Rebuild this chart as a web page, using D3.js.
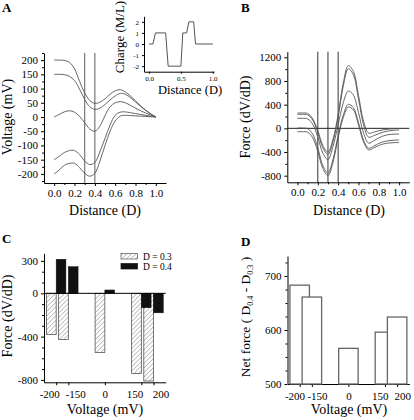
<!DOCTYPE html>
<html><head><meta charset="utf-8">
<script src="https://cdn.jsdelivr.net/npm/d3@7"></script>
<style>
html,body{margin:0;padding:0;background:#fff;}
svg{display:block;font-family:"Liberation Serif","Times New Roman",serif;}
</style>
</head><body>
<svg id="chart" width="414" height="420"></svg>
<script>
// ---------------- DATA ----------------
const distance = [0,0.05,0.1,0.15,0.2,0.25,0.3,0.35,0.4,0.45,0.5,0.55,0.6,0.65,0.7,0.75,0.8,0.85,0.9,0.95,1.0];
// Panel A: voltage profiles (mV)
const voltage200  = [200,200,199,192,170,125,85,58,48,52,64,80,92,96,88,74,57,39,24,11,0];
const voltage150  = [150,150,149,143,128,98,62,36,27,31,44,60,74,83,80,68,53,37,23,11,0];
const voltage0    = [0,9,18,22,17,2,-20,-42,-50,-32,5,36,50,54,50,41,31,22,14,7,0];
const voltageM150 = [-150,-138,-125,-118,-118,-132,-155,-167,-160,-122,-75,-28,6,17,18,15,12,9,6,3,0];
const voltageM200 = [-200,-186,-170,-163,-163,-178,-198,-208,-198,-155,-100,-50,-14,3,6,5,4,3,2,1,0];
const markerDistancesA = [0.3,0.4];
// Inset: charge profile
const chargeDistance = [0,0.06,0.1,0.26,0.3,0.5,0.53,0.59,0.625,0.7,0.73,1.0];
const chargeValues   = [0,0,1,1,-2,-2,1,1,2,2,0,0];
// Panel B: force profiles (dV/dD)
const force1 = [259,259,252,160,-40,-290,-400,-180,230,760,1060,960,560,120,-80,-65,-40,-22,-12,-6,-5];
const force2 = [236,236,228,140,-70,-330,-440,-220,190,710,1005,905,500,60,-150,-125,-90,-60,-42,-32,-29];
const force3 = [169,169,160,70,-150,-420,-530,-300,60,430,630,560,270,-80,-250,-210,-160,-125,-105,-98,-96];
const force4 = [5,5,-5,-100,-330,-630,-755,-520,-120,220,405,350,100,-200,-335,-300,-255,-225,-208,-200,-198];
const force5 = [-57,-57,-65,-160,-390,-680,-800,-570,-160,180,360,310,60,-230,-365,-330,-290,-262,-248,-242,-240];
const markerDistancesB = [0.2,0.3,0.4];
// Panel C / D
const voltages = [-200,-150,0,150,200];
const forceD03 = [-380,-426,-546,-741,-810];
const forceD04 = [315,246,31,-133,-180];
const seriesNames = ["D = 0.3","D = 0.4"];
const netForce = [683,661,566,596,624];
// tick labels
const distanceTicks = [0,0.2,0.4,0.6,0.8,1.0];
const voltageTicksA = [-200,-150,-100,-50,0,50,100,150,200];
const chargeTicks = [-2,-1,0,1,2];
const chargeDistTicks = [0,0.5,1.0];
const forceTicksB = [-800,-400,0,400,800,1200];
const forceTicksC = [-800,-400,0,300];
const netForceTicks = [500,600,700];

// ---------------- DRAW ----------------
const svg = d3.select("#chart");
const FONT = "Liberation Serif";
const fmt1 = d3.format(".1f");

function styleAxis(g, fs){
  g.attr("font-family", FONT).attr("font-size", fs);
  g.selectAll("path,line").attr("stroke","#000").attr("stroke-width",1);
  g.selectAll("text").attr("fill","#000");
}
function yAxis(scale, x, major, minor, fs, fmt){
  const g = svg.append("g").attr("transform",`translate(${x},0)`)
    .call(d3.axisLeft(scale).tickValues(major).tickSize(3).tickSizeOuter(0).tickPadding(3).tickFormat(fmt||(d=>String(d))));
  styleAxis(g, fs);
  if(minor){
    const m = svg.append("g").attr("transform",`translate(${x},0)`)
      .call(d3.axisLeft(scale).tickValues(minor).tickSize(2).tickFormat(""));
    m.select(".domain").remove();
    styleAxis(m, fs);
  }
  return g;
}
function xAxis(scale, y, major, minor, fs, fmt, pad){
  const g = svg.append("g").attr("transform",`translate(0,${y})`)
    .call(d3.axisBottom(scale).tickValues(major).tickSize(3).tickSizeOuter(0).tickPadding(pad||4).tickFormat(fmt||(d=>String(d))));
  styleAxis(g, fs);
  if(minor){
    const m = svg.append("g").attr("transform",`translate(0,${y})`)
      .call(d3.axisBottom(scale).tickValues(minor).tickSize(2).tickFormat(""));
    m.select(".domain").remove();
    styleAxis(m, fs);
  }
  return g;
}
function title(x, y, txt, fs, rotate, bold){
  const t = svg.append("text").attr("font-family",FONT).attr("font-size",fs)
    .attr("text-anchor", rotate ? "middle" : (bold ? "start" : "middle"))
    .attr("font-weight", bold ? "bold" : null).text(txt);
  if(rotate) t.attr("transform",`translate(${x},${y}) rotate(-90)`);
  else t.attr("x",x).attr("y",y);
  return t;
}
function spreadLabels(axisG, scale, values, minGap){
  // push overlapping tick labels apart symmetrically
  const pos = values.map(v=>scale(v));
  const out = pos.slice();
  for(let it=0; it<50; it++){
    for(let i=0;i<out.length-1;i++){
      const gap = out[i+1]-out[i];
      if(gap < minGap){ const d=(minGap-gap)/2; out[i]-=d; out[i+1]+=d; }
    }
  }
  axisG.selectAll(".tick text").each(function(d,i){
    d3.select(this).attr("dx", out[i]-pos[i]);
  });
}

// ===== Panel A =====
const xA = d3.scaleLinear().domain([-0.1,1.1]).range([44,166]);
const yA = d3.scaleLinear().domain([-232,225]).range([183,53]);
const minorDist = [0.1,0.3,0.5,0.7,0.9];
yAxis(yA, 44, voltageTicksA, d3.range(-225,226,50), 11);
xAxis(xA, 183, distanceTicks, minorDist, 11, fmt1, 3);
svg.append("g").selectAll("line").data(markerDistancesA).join("line")
  .attr("x1",d=>xA(d)).attr("x2",d=>xA(d)).attr("y1",yA.range()[0]).attr("y2",yA.range()[1])
  .attr("stroke","#777").attr("stroke-width",1.2);
const lineA = d3.line().x((d,i)=>xA(distance[i])).y(d=>yA(d)).curve(d3.curveCatmullRom.alpha(0.5));
svg.append("g").selectAll("path").data([voltage200,voltage150,voltage0,voltageM150,voltageM200]).join("path")
  .attr("d",lineA).attr("fill","none").attr("stroke","#555").attr("stroke-width",0.9);
title(12,117,"Voltage (mV)",14,true);
title(105,215,"Distance (D)",14,false);
title(2,12,"A",13,false,true);

// Inset
const xI = d3.scaleLinear().domain([-0.08,1.02]).range([144,214]);
const yI = d3.scaleLinear().domain([-2.5,2.5]).range([71.7,16.3]);
const gyI = svg.append("g").attr("transform","translate(144,0)")
  .call(d3.axisLeft(yI).tickValues(chargeTicks).tickSize(2).tickSizeOuter(0).tickPadding(3).tickFormat(d=>String(d)));
styleAxis(gyI, 7);
const gxI = svg.append("g").attr("transform","translate(0,71.7)")
  .call(d3.axisBottom(xI).tickValues(chargeDistTicks).tickSize(2).tickSizeOuter(0).tickPadding(2).tickFormat(fmt1));
styleAxis(gxI, 7);
svg.append("path").datum(chargeValues)
  .attr("d", d3.line().x((d,i)=>xI(chargeDistance[i])).y(d=>yI(d)))
  .attr("fill","none").attr("stroke","#555").attr("stroke-width",1);
title(124,37,"Charge (M/L)",13,true);
title(190,94,"Distance (D)",12.5,false);

// ===== Panel B =====
const xB = d3.scaleLinear().domain([-0.1,1.1]).range([287.3,409.3]);
const yB = d3.scaleLinear().domain([-912,1295]).range([182.3,51.7]);
yAxis(yB, 287.3, forceTicksB, [-600,-200,200,600,1000], 11);
xAxis(xB, 182.3, distanceTicks, minorDist, 11, fmt1, 3);
svg.append("g").selectAll("line").data(markerDistancesB).join("line")
  .attr("x1",d=>xB(d)).attr("x2",d=>xB(d)).attr("y1",yB.range()[0]).attr("y2",yB.range()[1])
  .attr("stroke","#333").attr("stroke-width",1);
svg.append("line").attr("x1",xB.range()[0]).attr("x2",xB.range()[1]).attr("y1",yB(0)).attr("y2",yB(0))
  .attr("stroke","#222").attr("stroke-width",1);
const lineB = d3.line().x((d,i)=>xB(distance[i])).y(d=>yB(d)).curve(d3.curveCatmullRom.alpha(0.5));
svg.append("g").selectAll("path").data([force1,force2,force3,force4,force5]).join("path")
  .attr("d",lineB).attr("fill","none").attr("stroke","#555").attr("stroke-width",0.9);
title(249.5,117,"Force (dV/dD)",14,true);
title(349,215,"Distance (D)",14,false);
title(241,12,"B",13,false,true);

// ===== Panel C =====
const defs = svg.append("defs");
const pat = defs.append("pattern").attr("id","hatch").attr("patternUnits","userSpaceOnUse")
  .attr("width",3.2).attr("height",3.2).attr("patternTransform","rotate(45)");
pat.append("rect").attr("width",3.2).attr("height",3.2).attr("fill","#fff");
pat.append("line").attr("x1",0).attr("y1",0).attr("x2",0).attr("y2",3.2).attr("stroke","#888").attr("stroke-width",1);

const xC = d3.scaleLinear().domain([-250,250]).range([44,165.7]);
const yC = d3.scaleLinear().domain([-822,370]).range([382.3,253.3]);
const barHalf = 40;
yAxis(yC, 44, forceTicksC, [-700,-600,-500,-300,-200,-100,100,200], 11);
const gxC = xAxis(xC, 382.3, voltages, null, 11, null, 5);
spreadLabels(gxC, xC, voltages, 26);
svg.append("g").selectAll("rect").data(forceD03).join("rect")
  .attr("x",(d,i)=>xC(voltages[i]-barHalf)).attr("width",(d,i)=>xC(voltages[i])-xC(voltages[i]-barHalf))
  .attr("y",d=>yC(Math.max(0,d))).attr("height",d=>Math.abs(yC(d)-yC(0)))
  .attr("fill","url(#hatch)").attr("stroke","#555").attr("stroke-width",0.8);
svg.append("g").selectAll("rect").data(forceD04).join("rect")
  .attr("x",(d,i)=>xC(voltages[i])).attr("width",(d,i)=>xC(voltages[i]+barHalf)-xC(voltages[i]))
  .attr("y",d=>yC(Math.max(0,d))).attr("height",d=>Math.abs(yC(d)-yC(0)))
  .attr("fill","#111").attr("stroke","#111").attr("stroke-width",0.5);
svg.append("line").attr("x1",xC.range()[0]).attr("x2",xC.range()[1]).attr("y1",yC(0)).attr("y2",yC(0))
  .attr("stroke","#000").attr("stroke-width",1);
// legend
const leg = svg.append("g");
seriesNames.forEach((name,i)=>{
  leg.append("rect").attr("x",121).attr("y",253.5+i*10).attr("width",16.5).attr("height",5.5)
    .attr("fill", i===0 ? "url(#hatch)" : "#111").attr("stroke", i===0 ? "#555" : "#111").attr("stroke-width",0.7);
  leg.append("text").attr("x",143).attr("y",259.5+i*10).attr("font-family",FONT).attr("font-size",9.5).text(name);
});
title(12,316,"Force (dV/dD)",14,true);
title(105,414,"Voltage (mV)",14,false);
title(2,243,"C",13,false,true);

// ===== Panel D =====
const xD = d3.scaleLinear().domain([-250,250]).range([287.5,409.3]);
const yD = d3.scaleLinear().domain([500,737]).range([384,256]);
yAxis(yD, 287.5, netForceTicks, [525,550,575,625,650,675,725], 11);
const gxD = xAxis(xD, 384, voltages, null, 11, null, 5);
spreadLabels(gxD, xD, voltages, 22.5);
svg.append("g").selectAll("rect").data(netForce).join("rect")
  .attr("x",(d,i)=>xD(voltages[i]-barHalf)).attr("width",(d,i)=>xD(voltages[i]+barHalf)-xD(voltages[i]-barHalf))
  .attr("y",d=>yD(d)).attr("height",d=>yD.range()[0]-yD(d))
  .attr("fill","#fff").attr("stroke","#666").attr("stroke-width",1.3);
const tD = svg.append("text").attr("font-family",FONT).attr("font-size",13.5).attr("text-anchor","middle")
  .attr("transform","translate(250,317) rotate(-90)");
tD.append("tspan").text("Net force ( D");
tD.append("tspan").attr("font-size",8).attr("dy",3).text("0.4");
tD.append("tspan").attr("dy",-3).text(" - D");
tD.append("tspan").attr("font-size",8).attr("dy",3).text("0.3");
tD.append("tspan").attr("dy",-3).text(" )");
title(349,414,"Voltage (mV)",14,false);
title(241,246,"D",13,false,true);
</script>
</body></html>
